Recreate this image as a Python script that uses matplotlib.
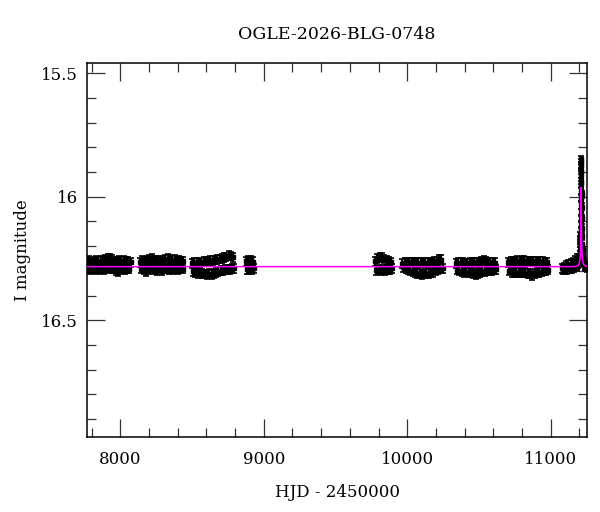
import numpy as np
import matplotlib as mpl
mpl.use('Agg')
from matplotlib import pyplot as plt
from matplotlib.ticker import MultipleLocator

# photometry, one block per observing season (HJD - 2450000, I mag)
s1_t = [7768, 7776, 7784, 7792, 7800, 7808, 7816, 7824, 7832, 7840, 7848, 7856, 7864,
        7872, 7880, 7888, 7896, 7904, 7912, 7920, 7928, 7936, 7944, 7952, 7960, 7968,
        7976, 7984, 7992, 8000, 8008, 8016, 8024, 8032, 8040, 8048, 8056, 8064, 8072]
s1_m = [16.262, 16.292, 16.258, 16.295, 16.265, 16.289, 16.260, 16.293, 16.257, 16.290,
        16.263, 16.296, 16.259, 16.288, 16.256, 16.294, 16.252, 16.291, 16.249, 16.287,
        16.250, 16.292, 16.255, 16.290, 16.261, 16.297, 16.262, 16.303, 16.258, 16.293,
        16.262, 16.289, 16.259, 16.294, 16.263, 16.290, 16.260, 16.292, 16.266]

s2_t = [8138, 8146, 8154, 8162, 8170, 8178, 8186, 8194, 8202, 8210, 8218, 8226, 8234,
        8242, 8250, 8258, 8266, 8274, 8282, 8290, 8298, 8306, 8314, 8322, 8330, 8338,
        8346, 8354, 8362, 8370, 8378, 8386, 8394, 8402, 8410, 8418, 8426, 8434, 8440]
s2_m = [16.265, 16.292, 16.258, 16.296, 16.262, 16.301, 16.259, 16.293, 16.255, 16.290,
        16.250, 16.294, 16.257, 16.292, 16.259, 16.297, 16.256, 16.289, 16.261, 16.300,
        16.256, 16.292, 16.254, 16.290, 16.251, 16.295, 16.252, 16.291, 16.256, 16.294,
        16.255, 16.290, 16.257, 16.293, 16.256, 16.289, 16.260, 16.292, 16.262]

s3_t = [8500, 8508, 8516, 8524, 8532, 8540, 8548, 8556, 8564, 8572, 8580, 8588, 8596,
        8604, 8612, 8620, 8628, 8636, 8644, 8652, 8660, 8668, 8676, 8684, 8692, 8700,
        8708, 8716, 8724, 8732, 8740, 8748, 8756, 8764, 8772, 8780, 8788, 8796]
s3_m = [16.270, 16.302, 16.268, 16.306, 16.266, 16.309, 16.265, 16.305, 16.264, 16.310,
        16.263, 16.313, 16.262, 16.316, 16.261, 16.312, 16.259, 16.315, 16.258, 16.310,
        16.256, 16.305, 16.254, 16.303, 16.252, 16.300, 16.250, 16.298, 16.247, 16.296,
        16.244, 16.294, 16.238, 16.293, 16.240, 16.291, 16.245, 16.290]

s4_t = [8876, 8882, 8888, 8894, 8900, 8906, 8912, 8918, 8924, 8930]
s4_m = [16.262, 16.294, 16.258, 16.296, 16.260, 16.292, 16.257, 16.295, 16.263, 16.290]

s5_t = [9776, 9784, 9792, 9800, 9808, 9816, 9824, 9832, 9840, 9848, 9856, 9864, 9872,
        9880, 9888, 9894]
s5_m = [16.262, 16.298, 16.250, 16.296, 16.245, 16.299, 16.247, 16.295, 16.252, 16.297,
        16.258, 16.294, 16.262, 16.296, 16.265, 16.290]

s6_t = [9966, 9974, 9982, 9990, 9998, 10006, 10014, 10022, 10030, 10038, 10046, 10054,
        10062, 10070, 10078, 10086, 10094, 10102, 10110, 10118, 10126, 10134, 10142,
        10150, 10158, 10166, 10174, 10182, 10190, 10198, 10206, 10214, 10222, 10230,
        10238, 10246]
s6_m = [16.272, 16.286, 16.268, 16.290, 16.266, 16.294, 16.265, 16.300, 16.266, 16.303,
        16.267, 16.306, 16.268, 16.309, 16.268, 16.312, 16.267, 16.314, 16.268, 16.313,
        16.267, 16.312, 16.268, 16.310, 16.266, 16.308, 16.265, 16.305, 16.262, 16.300,
        16.260, 16.296, 16.252, 16.292, 16.255, 16.290]

s7_t = [10340, 10348, 10356, 10364, 10372, 10380, 10388, 10396, 10404, 10412, 10420,
        10428, 10436, 10444, 10452, 10460, 10468, 10476, 10484, 10492, 10500, 10508,
        10516, 10524, 10532, 10540, 10548, 10556, 10564, 10572, 10580, 10588, 10596,
        10604, 10612, 10620]
s7_m = [16.270, 16.296, 16.268, 16.300, 16.267, 16.303, 16.268, 16.305, 16.269, 16.304,
        16.270, 16.306, 16.268, 16.308, 16.267, 16.310, 16.266, 16.314, 16.268, 16.309,
        16.265, 16.306, 16.262, 16.304, 16.258, 16.302, 16.263, 16.300, 16.265, 16.299,
        16.266, 16.298, 16.267, 16.296, 16.268, 16.293]

s8_t = [10704, 10712, 10720, 10728, 10736, 10744, 10752, 10760, 10768, 10776, 10784,
        10792, 10800, 10808, 10816, 10824, 10832, 10840, 10848, 10856, 10864, 10872,
        10880, 10888, 10896, 10904, 10912, 10920, 10928, 10936, 10944, 10952, 10960,
        10968, 10976, 10984]
s8_m = [16.266, 16.300, 16.262, 16.305, 16.261, 16.306, 16.260, 16.307, 16.259, 16.305,
        16.260, 16.306, 16.258, 16.305, 16.259, 16.307, 16.260, 16.309, 16.261, 16.312,
        16.262, 16.318, 16.263, 16.310, 16.262, 16.307, 16.261, 16.305, 16.263, 16.303,
        16.262, 16.300, 16.264, 16.298, 16.266, 16.295]

s9_t = [11076, 11084, 11092, 11100, 11108, 11116, 11124, 11132, 11140, 11148, 11156,
        11164, 11172, 11180, 11186, 11192]
s9_m = [16.290, 16.295, 16.285, 16.294, 16.280, 16.293, 16.276, 16.292, 16.272, 16.290,
        16.266, 16.288, 16.258, 16.283, 16.250, 16.270]

# the event itself: dense coverage over the peak
peak_t = [11194, 11197, 11199, 11201, 11203, 11204, 11205, 11206, 11207, 11208,
          11208.5, 11209, 11209.5, 11210, 11210.5, 11211, 11211.5, 11212, 11212.5,
          11213, 11213.5, 11214, 11214.5, 11215, 11216, 11217, 11218, 11219, 11220,
          11222, 11224, 11226, 11229, 11232, 11236, 11240, 11244, 11248, 11251]
peak_m = [16.268, 16.255, 16.245, 16.232, 16.218, 16.205, 16.190, 16.172, 16.155,
          16.135, 16.112, 16.090, 16.062, 16.035, 16.005, 15.975, 15.935, 15.895,
          15.860, 15.848, 15.875, 15.910, 15.950, 15.990, 16.040, 16.085, 16.125,
          16.160, 16.190, 16.215, 16.238, 16.252, 16.262, 16.270, 16.278, 16.283,
          16.286, 16.288, 16.290]

season_err = 0.018
peak_err = 0.013

# model curve
model_t = [7700, 11150, 11185, 11195, 11200, 11205, 11208, 11210, 11211.5, 11212.5,
           11213, 11213.5, 11214.5, 11216, 11218, 11221, 11226, 11232, 11245, 11300]
model_m = [16.283, 16.283, 16.281, 16.276, 16.268, 16.250, 16.220, 16.180, 16.120,
           16.040, 15.962, 16.040, 16.120, 16.180, 16.220, 16.250, 16.268, 16.276,
           16.281, 16.283]

plt.rcParams['font.family'] = ['DejaVu Serif']

fig = plt.figure(figsize=(6, 5.12), dpi=100)
ax = fig.add_axes([0.1455, 0.147, 0.8333, 0.7305])

seasons = [(s1_t, s1_m), (s2_t, s2_m), (s3_t, s3_m), (s4_t, s4_m), (s5_t, s5_m),
           (s6_t, s6_m), (s7_t, s7_m), (s8_t, s8_m), (s9_t, s9_m)]
for t, m in seasons:
    ax.errorbar(t, m, yerr=season_err, fmt='s', ms=3.0, color='k', mec='k',
                elinewidth=1.6, capsize=2.0, capthick=1.2, zorder=2)
ax.errorbar(peak_t, peak_m, yerr=peak_err, fmt='s', ms=3.0, color='k', mec='k',
            elinewidth=1.6, capsize=2.0, capthick=1.2, zorder=2)

ax.plot(model_t, model_m, color='#ff00ff', lw=1.1, zorder=3)

ax.set_xlim(7770, 11255)
ax.set_ylim(16.972, 15.457)

ax.xaxis.set_major_locator(MultipleLocator(1000))
ax.xaxis.set_minor_locator(MultipleLocator(200))
ax.yaxis.set_major_locator(MultipleLocator(0.5))
ax.yaxis.set_minor_locator(MultipleLocator(0.1))
ax.yaxis.set_major_formatter(plt.FuncFormatter(lambda v, p: ('%g' % v)))

ax.tick_params(which='both', direction='in', top=True, right=True, color='#333333',
               width=0.9, labelsize=12)
ax.tick_params(which='major', length=13)
ax.tick_params(which='minor', length=6.5)
ax.tick_params(axis='x', which='major', pad=10)
ax.tick_params(axis='y', which='major', pad=7)
for sp in ax.spines.values():
    sp.set_linewidth(1.1)

ax.set_xlabel('HJD - 2450000', fontsize=12, labelpad=12)
ax.set_ylabel('I magnitude', fontsize=12, labelpad=7)
fig.text(0.5617, 0.932, 'OGLE-2026-BLG-0748', ha='center', va='center', fontsize=12.5)

fig.savefig('out.png', dpi=100)
